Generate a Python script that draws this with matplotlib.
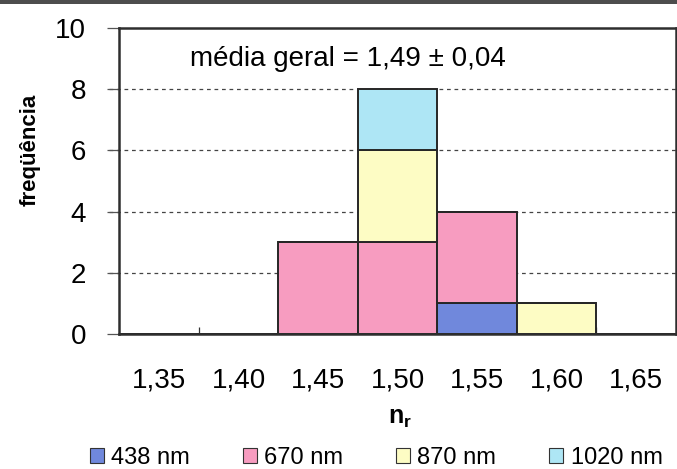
import numpy as np
import matplotlib.pyplot as plt
from matplotlib.patches import Patch, Rectangle

plt.rcParams['font.family'] = ['Liberation Sans', 'DejaVu Sans']
plt.rcParams['mathtext.fontset'] = 'custom'
plt.rcParams['mathtext.bf'] = 'Liberation Sans:bold'
plt.rcParams['mathtext.rm'] = 'Liberation Sans'

# refractive index classes and counts per wavelength
classes = ["1,35", "1,40", "1,45", "1,50", "1,55", "1,60", "1,65"]
n_438 = [0, 0, 0, 0, 1, 0, 0]
n_670 = [0, 0, 3, 3, 3, 0, 0]
n_870 = [0, 0, 0, 3, 0, 1, 0]
n_1020 = [0, 0, 0, 2, 0, 0, 0]

series = [
    ("438 nm", n_438, "#7088dc"),
    ("670 nm", n_670, "#f79cc0"),
    ("870 nm", n_870, "#fdfcc4"),
    ("1020 nm", n_1020, "#aee6f5"),
]

fig = plt.figure(figsize=(6.77, 4.69), dpi=100)
ax = fig.add_axes([0.1765, 0.2878, 0.822, 0.6525])

x = np.arange(len(classes))
bottom = np.zeros(len(classes))
handles = []
for label, vals, color in series:
    vals = np.array(vals, dtype=float)
    ax.bar(x, vals, width=1.0, bottom=bottom, color=color,
           edgecolor="#262626", linewidth=1.4, zorder=3)
    bottom += vals
    handles.append(Patch(facecolor=color, edgecolor="#333333", linewidth=0.8, label=label))

ax.set_xlim(-0.5, len(classes) - 0.5)
ax.set_ylim(0, 10)

# dashed gridlines, pulled slightly left past the axis
for yv in [2, 4, 6, 8]:
    ax.axhline(yv, xmin=-0.018, xmax=1, color="#444444", lw=0.9,
               ls=(0, (3, 3)), clip_on=False, zorder=1)

ax.set_yticks([0, 2, 4, 6, 8, 10])
ax.tick_params(axis="y", length=9, width=0.9, color="#555555", pad=15,
               labelsize=20)
ax.set_xticks(x)
ax.set_xticklabels(classes)
ax.tick_params(axis="x", length=0, pad=24, labelsize=20)
ax.set_xticks(x[:-1] + 0.5, minor=True)
ax.tick_params(axis="x", which="minor", direction="in", length=5,
               width=0.9, color="#333333")

for side in ["left", "right", "top", "bottom"]:
    ax.spines[side].set_color("#2e2e2e")
    ax.spines[side].set_linewidth(1.8)
    ax.spines[side].set_zorder(4)

ax.text(0.39, 9.0, "média geral = 1,49 ± 0,04", fontsize=20, va="center",
        ha="left")

fig.text(30 / 677, 1 - 150 / 469, "freqüência", rotation=90, fontsize=16,
         fontweight="bold", ha="center", va="center")
fig.text(400 / 677, 1 - 418 / 469, r"$\mathbf{n}_\mathbf{r}$", fontsize=18,
         ha="center", va="center")

fig.legend(handles=handles, loc="center", ncol=4, frameon=False,
           bbox_to_anchor=(376 / 677, 1 - 458 / 469), fontsize=17,
           handlelength=0.6, handleheight=0.6, handletextpad=0.3,
           columnspacing=2.25, borderaxespad=0)

# dark strip along the top edge of the figure
fig.add_artist(Rectangle((0, 0.991), 1, 0.009, transform=fig.transFigure,
                         color="#4d4d4d", lw=0))

fig.savefig("out.png", dpi=100)
